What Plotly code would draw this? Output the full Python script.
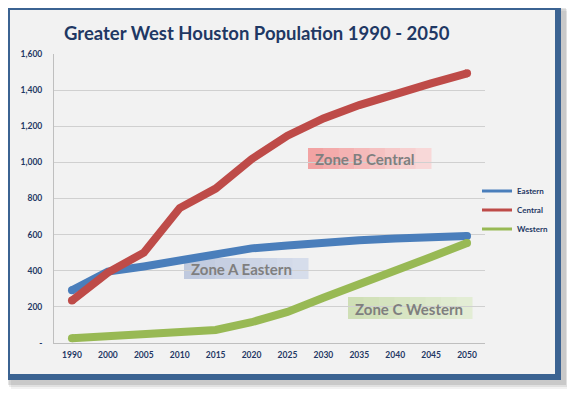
import plotly.graph_objects as go

years = ["1990", "2000", "2005", "2010", "2015", "2020", "2025", "2030", "2035", "2040", "2045", "2050"]
eastern = [292, 395, 424, 456, 488, 524, 540, 558, 569, 579, 587, 593]
central = [235, 390, 500, 747, 855, 1018, 1148, 1243, 1317, 1380, 1437, 1493]
western = [26, 36, 44, 55, 72, 115, 172, 250, 322, 398, 476, 554]
series_names = ["Eastern", "Central", "Western"]
y_tickvals = [0, 200, 400, 600, 800, 1000, 1200, 1400, 1600]
y_ticktext = ["-", "200", "400", "600", "800", "1,000", "1,200", "1,400", "1,600"]
zone_labels = ["Zone A Eastern", "Zone B Central", "Zone C Western"]

W, H = 575, 393
PAGE = 8  # default body margin of the html page
L, R, T, B = 54, 485, 54, 343  # plot area in page pixels
FONT = "Lato"
NAVY = "#1F3864"
colors = ["#4A7EBB", "#BE4B48", "#98B954"]


def px(x):
    return (x - L) / (R - L)


def py(y):
    return (B - y) / (B - T)


fig = go.Figure()
n = len(years)
caps = [8] + [0] * (n - 2) + [8]
for name, vals, c in zip(series_names, [eastern, central, western], colors):
    fig.add_trace(go.Scatter(x=years, y=vals, mode="lines+markers", name=name,
                             line=dict(color=c, width=8),
                             marker=dict(size=caps, color=c, opacity=1, line=dict(width=0)),
                             showlegend=False, hoverinfo="skip"))
for name, c in zip(series_names, colors):
    fig.add_trace(go.Scatter(x=[None], y=[None], mode="lines", name=name,
                             line=dict(color=c, width=3), showlegend=True))

shapes = []
# soft shadow
for off, col in [(9, "rgba(0,0,0,0.05)"), (7, "rgba(0,0,0,0.07)"), (5, "rgba(0,0,0,0.10)")]:
    shapes.append(dict(type="rect", xref="paper", yref="paper", layer="below",
                       x0=px(4 + off - 2), x1=px(561 + off), y0=py(4 + off - 2), y1=py(380 + off),
                       line=dict(width=0), fillcolor=col))
# frame + panel
shapes.append(dict(type="rect", xref="paper", yref="paper", layer="below",
                   x0=px(7), x1=px(558), y0=py(7), y1=py(377),
                   line=dict(color="#3B6392", width=6), fillcolor="#F2F2F2"))

# zone label boxes (gradient-like stripes)
boxes = [
    ((184, 308, 258, 279), ("#BFC9DE", "#D6DDEB")),
    ((308, 431, 148, 169), ("#F2A3A3", "#F8D8D8")),
    ((348, 472, 297, 319), ("#CFDFB6", "#E3EDD5")),
]


def mix(a, b, t):
    a = [int(a[i:i + 2], 16) for i in (1, 3, 5)]
    b = [int(b[i:i + 2], 16) for i in (1, 3, 5)]
    return "#%02X%02X%02X" % tuple(round(a[k] + (b[k] - a[k]) * t) for k in range(3))


annotations = []
for ((x0, x1, y0, y1), (c0, c1)), label in zip(boxes, zone_labels):
    steps = 8
    for i in range(steps):
        sx0 = x0 + (x1 - x0) * i / steps
        sx1 = x0 + (x1 - x0) * (i + 1) / steps
        shapes.append(dict(type="rect", xref="paper", yref="paper", layer="below",
                           x0=px(sx0), x1=px(sx1 + 0.5), y0=py(y0), y1=py(y1),
                           line=dict(width=0), fillcolor=mix(c0, c1, i / (steps - 1))))
    annotations.append(dict(xref="paper", yref="paper", x=px(x0 + 5), y=py((y0 + y1) / 2 + 0.5),
                            xanchor="left", yanchor="middle", showarrow=False, text=label,
                            font=dict(family=FONT, size=15, color="#7F7F7F", weight="bold")))

annotations.append(dict(xref="paper", yref="paper", x=px(257), y=py(33), xanchor="center",
                        yanchor="middle", showarrow=False,
                        text="Greater West Houston Population 1990 - 2050",
                        font=dict(family=FONT, size=18.5, color=NAVY, weight="bold")))

fig.update_layout(
    width=W, height=H,
    margin=dict(l=L - PAGE, r=W - R + PAGE, t=T - PAGE, b=H - B + PAGE, pad=0),
    paper_bgcolor="white", plot_bgcolor="rgba(0,0,0,0)",
    shapes=shapes, annotations=annotations,
    font=dict(family=FONT, color=NAVY),
    legend=dict(x=px(477), y=py(176.5), xanchor="left", yanchor="top",
                bgcolor="rgba(0,0,0,0)", itemwidth=30,
                font=dict(family=FONT, size=8, color=NAVY, weight="bold")),
    xaxis=dict(type="category", range=[-0.5, n - 0.5], showgrid=False,
               showline=True, linecolor="#BFBFBF", linewidth=1,
               ticks="", ticklabelstandoff=4,
               tickfont=dict(family=FONT, size=8.5, color=NAVY, weight="bold")),
    yaxis=dict(range=[0, 1600], tickvals=y_tickvals, ticktext=y_ticktext,
               showgrid=True, gridcolor="#D0D0D0", gridwidth=1,
               showline=True, linecolor="#BFBFBF", linewidth=1, zeroline=False,
               ticks="", ticklabelstandoff=9,
               tickfont=dict(family=FONT, size=8.5, color=NAVY, weight="bold")),
)

fig.write_html("out.html")
